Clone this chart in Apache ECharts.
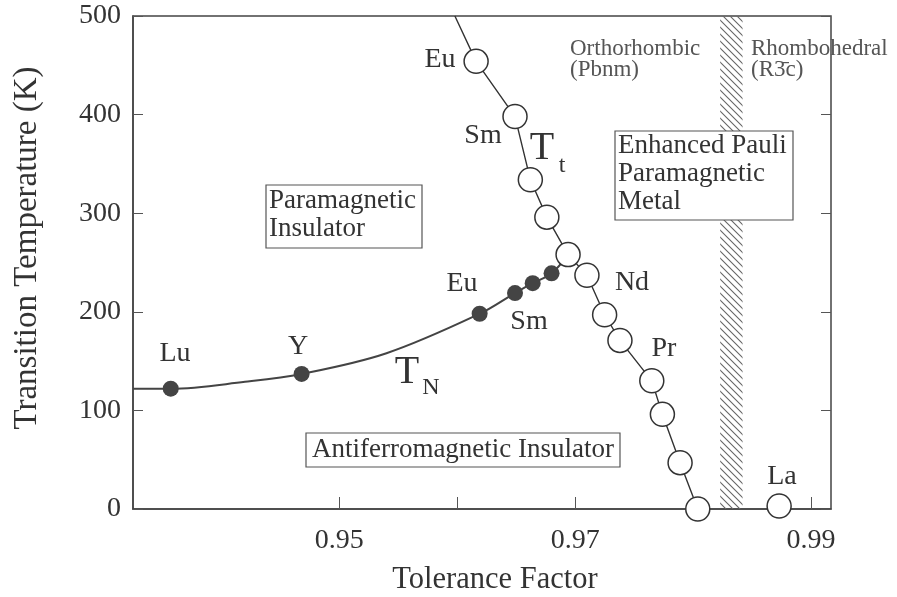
<!DOCTYPE html>
<html>
<head>
<meta charset="utf-8">
<script src="https://cdn.jsdelivr.net/npm/echarts@6/dist/echarts.min.js"></script>
<style>
  html, body { margin: 0; padding: 0; background: #fff; }
  #chart { width: 897px; height: 597px; }
</style>
</head>
<body>
<div id="chart"></div>
<script>
// Tolerance factor of each open-circle point (structural transition T_t)
const ttX = [0.9616, 0.9649, 0.9662, 0.9676, 0.9694, 0.9710, 0.9725, 0.9738, 0.9765, 0.9774, 0.9789, 0.9804];
const ttY = [454, 398, 334, 296, 258, 237, 197, 171, 130, 96, 47, 0];
// LaMnO3-type end member (La), not on the T_t line
const laX = [0.9873];
const laY = [3];
// Upper end of the T_t line, where it leaves the frame
const ttTopX = [0.9598];
const ttTopY = [500];

// Filled points: Neel temperature T_N
const tnX = [0.9357, 0.9468, 0.9619, 0.9649, 0.9664, 0.9680];
const tnY = [122, 137, 198, 219, 229, 239];
// Smooth T_N guide curve
const tnCurveX = [0.9325, 0.9357, 0.9420, 0.9468, 0.9540, 0.9619, 0.9649, 0.9664, 0.9680, 0.9694];
const tnCurveY = [122, 122, 129, 137, 158, 198, 219, 229, 239, 258];

// Hatched Orthorhombic / Rhombohedral boundary band
const bandX = [0.9823, 0.9842];

// Axis ticks and labels
const xTicks = [0.95, 0.96, 0.97, 0.98, 0.99];
const xLabels = [0.95, 0.97, 0.99];
const yMin = 0, yMax = 500, yStep = 100;
const xMin = 0.9325, xMax = 0.9917;

const zip = (xs, ys) => xs.map((x, i) => [x, ys[i]]);

const FONT = '"Liberation Serif", "DejaVu Serif", serif';
const INK = '#333';

// Diagonal hatch tile
function hatchPattern() {
  const c = document.createElement('canvas');
  c.width = 7; c.height = 7;
  const g = c.getContext('2d');
  g.strokeStyle = '#666';
  g.lineWidth = 1.1;
  g.beginPath();
  g.moveTo(-1, -1); g.lineTo(8, 8);
  g.moveTo(-1, 6); g.lineTo(1, 8);
  g.moveTo(6, -1); g.lineTo(8, 1);
  g.stroke();
  return c;
}

const chart = echarts.init(document.getElementById('chart'), null, { renderer: 'canvas' });

const txt = (text, x, y, size, opts = {}, extra = {}) => Object.assign({
  type: 'text', x, y, z: 50,
  style: Object.assign({
    text, font: `${size}px ${FONT}`, fill: INK,
    textAlign: 'center', textVerticalAlign: 'middle'
  }, opts)
}, extra);
const box = (x, y, w, h) => ({
  type: 'rect', z: 45,
  shape: { x, y, width: w, height: h },
  style: { fill: '#fff', stroke: '#555', lineWidth: 1.2 }
});

chart.setOption({
  animation: false,
  backgroundColor: '#fff',
  grid: { left: 133, top: 16, width: 698, height: 493, show: true, borderColor: '#444', borderWidth: 1.5, backgroundColor: 'transparent' },
  xAxis: {
    type: 'value', min: xMin, max: xMax,
    axisLine: { show: true, lineStyle: { color: '#444', width: 1.5 } },
    axisTick: { show: true, inside: true, length: 12, customValues: xTicks, lineStyle: { color: '#555' } },
    axisLabel: { customValues: xLabels, formatter: v => v.toFixed(2), fontFamily: FONT, fontSize: 28, color: INK, margin: 18 },
    splitLine: { show: false }
  },
  yAxis: [{
    type: 'value', min: yMin, max: yMax, interval: yStep,
    axisLine: { show: true, lineStyle: { color: '#444', width: 1.5 } },
    axisTick: { show: true, inside: true, length: 10, lineStyle: { color: '#555' } },
    axisLabel: { fontFamily: FONT, fontSize: 28, color: INK, margin: 12 },
    splitLine: { show: false }
  }, {
    type: 'value', min: yMin, max: yMax, interval: yStep, position: 'right',
    axisLine: { show: false },
    axisTick: { show: true, inside: true, length: 10, lineStyle: { color: '#555' } },
    axisLabel: { show: false },
    splitLine: { show: false }
  }],
  series: [
    {
      name: 'band', type: 'line', data: [], silent: true,
      markArea: {
        silent: true,
        itemStyle: { color: { image: hatchPattern(), repeat: 'repeat' } },
        data: [[{ xAxis: bandX[0], yAxis: yMin }, { xAxis: bandX[1], yAxis: yMax }]]
      }
    },
    {
      name: 'TN curve', type: 'line', smooth: 0.35, symbol: 'none', z: 3,
      data: zip(tnCurveX, tnCurveY),
      lineStyle: { color: '#444', width: 2 }
    },
    {
      name: 'Tt line', type: 'line', symbol: 'none', z: 3,
      data: zip(ttTopX, ttTopY).concat(zip(ttX, ttY)),
      lineStyle: { color: '#333', width: 1.4 }
    },
    {
      name: 'TN', type: 'scatter', symbol: 'circle', symbolSize: 16, z: 5,
      data: zip(tnX, tnY),
      itemStyle: { color: '#444', opacity: 1 }
    },
    {
      name: 'Tt', type: 'scatter', symbol: 'circle', symbolSize: 24, z: 6,
      data: zip(ttX, ttY).concat(zip(laX, laY)),
      itemStyle: { color: '#fff', borderColor: '#333', borderWidth: 1.5, opacity: 1 }
    }
  ],
  graphic: [
    // Axis titles
    txt('Transition Temperature (K)', 27, 248, 33, {}, { rotation: Math.PI / 2 }),
    txt('Tolerance Factor', 495, 580, 30.5),
    // Structure labels along the top
    txt('Orthorhombic', 570, 49, 23, { textAlign: 'left', fill: '#555' }),
    txt('(Pbnm)', 570, 70, 23, { textAlign: 'left', fill: '#555' }),
    txt('Rhombohedral', 751, 49, 23, { textAlign: 'left', fill: '#555' }),
    txt('(R3\u0304c)', 751, 70, 23, { textAlign: 'left', fill: '#555' }),
    // Phase regions
    box(266, 185, 156, 63),
    txt('Paramagnetic', 269, 201, 27, { textAlign: 'left' }),
    txt('Insulator', 269, 229, 27, { textAlign: 'left' }),
    box(306, 433, 314, 34),
    txt('Antiferromagnetic Insulator', 463, 450, 27),
    box(615, 131, 178, 89),
    txt('Enhanced Pauli', 618, 146, 27, { textAlign: 'left' }),
    txt('Paramagnetic', 618, 174, 27, { textAlign: 'left' }),
    txt('Metal', 618, 202, 27, { textAlign: 'left' }),
    // Transition lines
    txt('T', 542, 148, 40),
    txt('t', 562, 166, 24),
    txt('T', 407, 372, 40),
    txt('N', 431, 388, 24),
    // Rare-earth labels
    txt('Eu', 440, 60, 28),
    txt('Sm', 483, 136, 28),
    txt('Eu', 462, 284, 28),
    txt('Sm', 529, 322, 28),
    txt('Lu', 175, 354, 28),
    txt('Y', 298, 347, 28),
    txt('Nd', 632, 283, 28),
    txt('Pr', 664, 349, 28),
    txt('La', 782, 477, 28)
  ]
});
</script>
</body>
</html>
